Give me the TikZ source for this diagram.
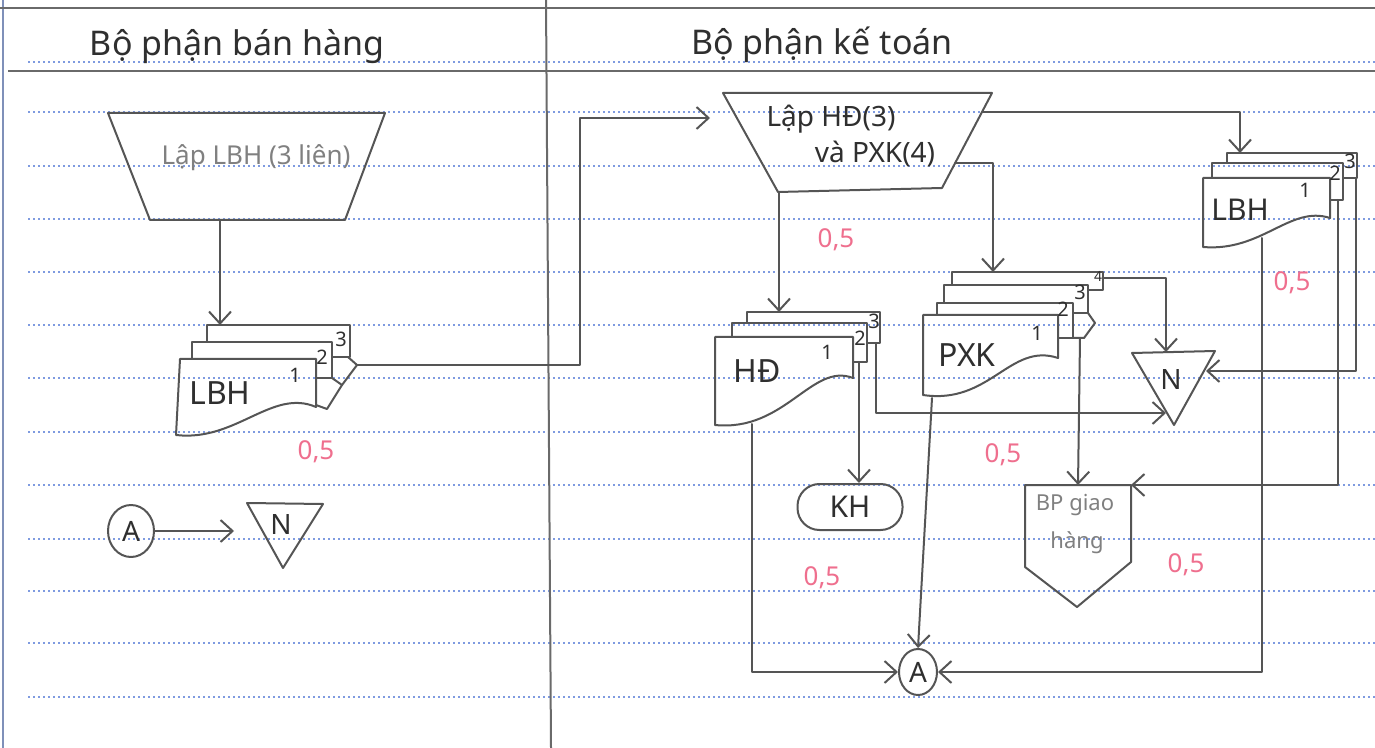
\documentclass[tikz,border=0pt]{standalone}
\usepackage{fontspec}
\setmainfont{Noto Sans}
\usetikzlibrary{arrows.meta,calc,shapes.geometric}
\definecolor{pen}{HTML}{555555}
\definecolor{ink}{HTML}{2f2f2f}
\definecolor{soft}{HTML}{808080}
\definecolor{ruleblue}{HTML}{7f9be0}
\definecolor{grade}{HTML}{ef6f8e}
\definecolor{frameline}{HTML}{6a6a6a}
\newcommand\fsz[1]{\fontsize{#1}{#1}\selectfont}
\begin{document}
\begin{tikzpicture}[x=0.5pt,y=-0.5pt,
  pen/.style={draw=pen, line width=1pt, line join=round, line cap=round},
  flow/.style={pen, -{Straight Barb[length=6pt,width=11pt,line width=1pt]}},
  rulerow/.style={draw=ruleblue, line width=0.9pt, dash pattern=on 0.9pt off 1.6pt},
  frame/.style={draw=frameline, line width=1pt},
  txt/.style={text=ink, inner sep=0pt},
  num/.style={text=ink, inner sep=0pt, font=\fsz{10}},
  gradetxt/.style={text=grade, inner sep=0pt, font=\fsz{13}},
  header/.style={text=ink, inner sep=0pt, font=\fsz{17}},
  circ/.style={pen, ellipse, inner sep=0pt, text=ink, font=\fsz{14}},
]
\useasboundingbox (0,0) rectangle (1375,748);
\fill[white] (0,0) rectangle (1375,748);

% ---- ruled paper ----
\foreach \yy in {62,112,166,219,272,325,378,432,485,539,591,643,697}
  \draw[rulerow] (28,\yy) -- (1375,\yy);
\draw[draw=ruleblue!60!gray, line width=0.8pt] (3,0) -- (3,748);
\draw[frame] (0,8) -- (1375,8);
\draw[frame] (8,71) -- (1375,71);
\draw[frame] (546,0) -- (551,748);

% ---- headers ----
\node[header] (h1) at (237,47) {Bộ phận bán hàng};
\node[header] (h2) at (822,45) {Bộ phận kế toán};

% ================= LEFT LANE =================
% manual operation: Lap LBH
\coordinate (t1a) at (108,113); \coordinate (t1b) at (385,113);
\coordinate (t1c) at (345,220); \coordinate (t1d) at (150,220);
\draw[pen] (t1a) -- (t1b) -- (t1c) -- (t1d) -- cycle;
\node[txt, text=soft, font=\fsz{13}] (t1) at (256,158) {Lập LBH (3 liên)};

% LBH document stack (left)
\draw[pen] (207,342) -- (207,325) -- (350,325) -- (350,357) -- (332,357);
\draw[pen] (192,359) -- (192,342) -- (332,342) -- (332,378) -- (316,378);
\draw[pen] (180,359) -- (316,359) -- (316,407)
   .. controls (272,388) and (236,442) .. (176,435) -- cycle;
\draw[pen] (348,357) -- (357,365) -- (342,385) -- (327,409) -- (316,405);
\draw[pen] (332,378) -- (342,385);
\node[txt, font=\fsz{16}] (lbhL) at (220,393) {LBH};
\node[num] (lbhL1) at (295,375) {1};
\node[num] (lbhL2) at (322,357) {2};
\node[num] (lbhL3) at (341,339) {3};
\coordinate (lbhLin) at (220,325);
\coordinate (lbhLout) at (357,365);
\coordinate (t1out) at (220,220);
\draw[flow] (t1out) -- (lbhLin);

% connector A -> N (left)
\node[circ, minimum width=23pt, minimum height=26pt] (A1) at (131,531) {A};
\coordinate (n1a) at (247,503); \coordinate (n1b) at (323,504); \coordinate (n1c) at (283,568);
\draw[pen] (n1a) -- (n1b) -- (n1c) -- cycle;
\node[txt, font=\fsz{14}] (N1) at (281,525) {N};
\coordinate (n1in) at (234,531);
\draw[flow] (A1.east) -- (n1in);

% ================= RIGHT LANE =================
% manual operation: Lap HD va PXK
\coordinate (t2a) at (723,93); \coordinate (t2b) at (992,93);
\coordinate (t2c) at (942,188); \coordinate (t2d) at (778,192);
\draw[pen] (t2a) -- (t2b) -- (t2c) -- (t2d) -- cycle;
\node[txt, font=\fsz{14}] (t2l1) at (831,119) {Lập HĐ(3)};
\node[txt, font=\fsz{14}] (t2l2) at (875,154) {và PXK(4)};
\coordinate (t2in) at (710,118);
\coordinate (t2r1) at (982,112);
\coordinate (t2r2) at (955,163);
\coordinate (t2bot) at (779,192);

% HD stack
\draw[pen] (747,323) -- (747,312) -- (880,312) -- (880,343) -- (867,343);
\draw[pen] (732,337) -- (732,323) -- (867,323) -- (867,362) -- (853,362);
\draw[pen] (715,337) -- (853,337) -- (853,378)
   .. controls (812,362) and (785,432) .. (715,425) -- cycle;
\node[txt, font=\fsz{16}] (hd) at (757,371) {HĐ};
\node[num] (hd1) at (827,352) {1};
\node[num] (hd2) at (860,338) {2};
\node[num] (hd3) at (874,321) {3};
\coordinate (hdin) at (779,312);
\coordinate (hd3out) at (876,343);
\coordinate (hd2out) at (859,362);
\coordinate (hd1out) at (752,424);

% PXK stack
\draw[pen] (952,285) -- (952,272) -- (1103,272) -- (1103,290) -- (1088,290);
\draw[pen] (944,303) -- (944,285) -- (1088,285) -- (1088,313) -- (1073,313);
\draw[pen] (937,315) -- (937,303) -- (1073,303) -- (1073,338) -- (1058,338);
\draw[pen] (923,315) -- (1058,315) -- (1058,358)
   .. controls (1010,342) and (990,405) .. (923,395) -- cycle;
\draw[pen] (1088,313) -- (1095,323) -- (1084,338) -- (1073,338);
\node[txt, font=\fsz{16}] (pxk) at (967,355) {PXK};
\node[num] (pxk1) at (1037,333) {1};
\node[num] (pxk2) at (1063,309) {2};
\node[num] (pxk3) at (1080,292) {3};
\node[num, font=\fsz{7}] (pxk4) at (1098,276) {4};
\coordinate (pxkin) at (993,272);
\coordinate (pxk4out) at (1103,278);
\coordinate (pxkdout) at (1080,338);
\coordinate (pxk1out) at (932,398);

% LBH stack (right)
\draw[pen] (1227,163) -- (1227,153) -- (1357,153) -- (1357,178) -- (1343,178);
\draw[pen] (1212,178) -- (1212,163) -- (1343,163) -- (1343,200) -- (1330,200);
\draw[pen] (1203,178) -- (1330,178) -- (1330,218)
   .. controls (1290,205) and (1262,252) .. (1203,247) -- cycle;
\node[txt, font=\fsz{15}] (lbhR) at (1240,210) {LBH};
\node[num] (lbhR1) at (1305,190) {1};
\node[num] (lbhR2) at (1335,173) {2};
\node[num] (lbhR3) at (1350,161) {3};
\coordinate (lbhRin) at (1240,153);
\coordinate (lr3out) at (1356,178);
\coordinate (lr2out) at (1338,200);
\coordinate (lr1out) at (1262,238);

% N (file) right
\coordinate (n2a) at (1132,353); \coordinate (n2b) at (1215,351); \coordinate (n2c) at (1174,425);
\draw[pen] (n2a) -- (n2b) -- (n2c) -- cycle;
\node[txt, font=\fsz{14}] (N2) at (1171,380) {N};
\coordinate (n2top) at (1166,352);
\coordinate (n2left) at (1166,413);
\coordinate (n2right) at (1206,371);

% KH terminator
\node[pen, rounded corners=11pt, minimum width=52.5pt, minimum height=23pt,
      text=ink, font=\fsz{15}, inner sep=0pt] (KH) at (850,507) {KH};

% BP giao hang (off-page connector)
\coordinate (bpa) at (1025,485); \coordinate (bpb) at (1131,485);
\coordinate (bpc) at (1131,562); \coordinate (bpd) at (1077,607);
\coordinate (bpe) at (1025,567);
\draw[pen] (bpa) -- (bpb) -- (bpc) -- (bpd) -- (bpe) -- cycle;
\node[txt, text=soft, font=\fsz{11}] (bp1) at (1075,505) {BP giao};
\node[txt, text=soft, font=\fsz{11}] (bp2) at (1077,543) {hàng};
\coordinate (bptop) at (1078,485);

% A connector (right)
\node[circ, minimum width=19pt, minimum height=23pt] (A2) at (918,672) {A};

% ---- connectors ----
\coordinate (j1) at (580,365);
\coordinate (j2) at (580,118);
\draw[flow] (lbhLout) -- (j1) -- (j2) -- (t2in);
\draw[flow] (t2r1) -| (lbhRin);
\draw[flow] (t2r2) -| (pxkin);
\draw[flow] (t2bot) -- (hdin);
\draw[flow] (hd3out) |- (n2left);
\draw[flow] (hd2out) -- (hd2out |- KH.north);
\draw[flow] (hd1out) |- (A2.west);
\draw[flow] (pxk4out) -| (n2top);
\draw[flow] (pxkdout) -- (bptop);
\draw[flow] (pxk1out) -- (A2.north);
\draw[flow] (lr3out) |- (n2right);
\draw[flow] (lr2out) |- (bpb);
\draw[flow] (lr1out) |- (A2.east);

% ---- grading marks ----
\node[gradetxt] (g1) at (316,452) {0,5};
\node[gradetxt] (g2) at (836,240) {0,5};
\node[gradetxt] (g3) at (1003,455) {0,5};
\node[gradetxt] (g4) at (822,578) {0,5};
\node[gradetxt] (g5) at (1186,565) {0,5};
\node[gradetxt] (g6) at (1292,283) {0,5};
\end{tikzpicture}
\end{document}
